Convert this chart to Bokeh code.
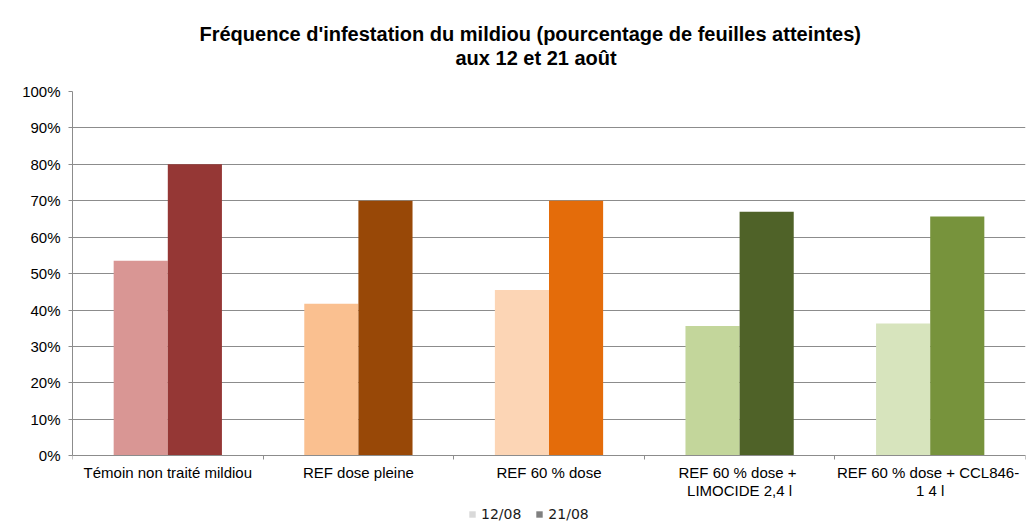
from bokeh.plotting import figure
from bokeh.models import (ColumnDataSource, Range1d, LinearAxis,
                          FixedTicker, PrintfTickFormatter, Title,
                          Legend, LegendItem)
from bokeh.transform import dodge
from bokeh.embed import file_html
from bokeh.resources import INLINE

categories = ["Témoin non traité mildiou", "REF dose pleine", "REF 60 % dose",
              "REF 60 % dose  +\nLIMOCIDE 2,4 l", "REF 60 % dose  + CCL846-\n1 4 l"]
series_names = ["12/08", "21/08"]
values_1208 = [53.5, 41.7, 45.5, 35.6, 36.3]
values_2108 = [80.0, 70.0, 70.0, 67.0, 65.7]
colors_1208 = ["#d99694", "#fac090", "#fcd5b5", "#c3d69b", "#d7e4bd"]
colors_2108 = ["#953735", "#984807", "#e46c0a", "#4f6228", "#77933c"]
legend_colors = ["#d9d9d9", "#808080"]
y_ticks = [0, 10, 20, 30, 40, 50, 60, 70, 80, 90, 100]

FONT = "Liberation Sans"
GRID = "#8c8c8c"

n = len(categories)
centers = [i + 0.5 for i in range(n)]
src = ColumnDataSource(dict(pos=centers, v1=values_1208, v2=values_2108,
                            c1=colors_1208, c2=colors_2108))

p = figure(x_range=Range1d(0, n), y_range=Range1d(-20, 100),
           frame_width=953, frame_height=437,
           output_backend="svg", toolbar_location=None, title=None,
           x_axis_location=None, y_axis_location="left")
p.min_border_left = 72
p.min_border_right = 5
p.min_border_top = 91
p.min_border_bottom = 2
p.outline_line_color = None
p.background_fill_color = "white"
p.border_fill_color = "white"

p.vbar(x=dodge("pos", -0.142), top="v1", width=0.284, source=src,
       fill_color="c1", line_color=None)
p.vbar(x=dodge("pos", 0.142), top="v2", width=0.284, source=src,
       fill_color="c2", line_color=None)

# legend proxies (zero-height bars, invisible in the plot)
proxy = ColumnDataSource(dict(pos=[centers[0]], top=[0], bottom=[0]))
r1 = p.vbar(x="pos", top="top", bottom="bottom", width=0.01, source=proxy,
            fill_color=legend_colors[0], line_color=None)
r2 = p.vbar(x="pos", top="top", bottom="bottom", width=0.01, source=proxy,
            fill_color=legend_colors[1], line_color=None)

# y axis
ya = p.yaxis[0]
ya.ticker = FixedTicker(ticks=y_ticks)
ya.formatter = PrintfTickFormatter(format="%d%%")
ya.bounds = (0, 100)
ya.axis_line_color = GRID
ya.major_tick_line_color = GRID
ya.major_tick_out = 4
ya.major_tick_in = 0
ya.minor_tick_line_color = None
ya.major_label_text_font = FONT
ya.major_label_text_font_size = "15px"
ya.major_label_text_color = "black"
ya.major_label_standoff = 8

p.ygrid.ticker = FixedTicker(ticks=y_ticks)
p.ygrid.grid_line_color = GRID
p.xgrid.grid_line_color = None

# x tick axis (boundaries) at y = 0
tick_axis = LinearAxis(ticker=FixedTicker(ticks=list(range(n + 1))), fixed_location=0,
                       axis_line_color=GRID, major_tick_line_color=GRID, major_tick_out=4,
                       major_tick_in=0, minor_tick_line_color=None,
                       major_label_text_font_size="1px", major_label_text_alpha=0,
                       major_label_standoff=0)
p.add_layout(tick_axis, "below")

cat_axis = LinearAxis(ticker=FixedTicker(ticks=centers), fixed_location=0,
                      major_label_overrides={c: lab for c, lab in zip(centers, categories)},
                      axis_line_color=None, major_tick_line_color=None,
                      major_tick_out=0, major_tick_in=0,
                      minor_tick_line_color=None, major_label_standoff=8,
                      major_label_text_font=FONT, major_label_text_font_size="15px",
                      major_label_text_color="black", major_label_text_line_height=1.1)
p.add_layout(cat_axis, "below")

legend = Legend(items=[LegendItem(label=series_names[0], renderers=[r1]),
                       LegendItem(label=series_names[1], renderers=[r2])],
                orientation="horizontal", location=(396, 6),
                glyph_width=8, glyph_height=8, label_text_font="DejaVu Sans",
                label_text_font_size="14px", label_text_color="#1a1a1a",
                label_standoff=5, spacing=14,
                border_line_color=None, background_fill_alpha=0, padding=0, margin=0,
                label_height=16)
p.add_layout(legend, "center")

spacer = Title(text=" ", text_font_size="1px", standoff=20)
t2 = Title(text="aux 12 et 21 août", align="left", offset=383, text_font=FONT,
           text_font_size="20px", text_font_style="bold", text_color="black", standoff=0)
t1 = Title(text="Fréquence d'infestation du mildiou (pourcentage de feuilles atteintes)",
           align="left", offset=127, text_font=FONT, text_font_size="20px",
           text_font_style="bold", text_color="black", standoff=0)
p.add_layout(spacer, "above")
p.add_layout(t2, "above")
p.add_layout(t1, "above")

open("out.html", "w").write(file_html(p, INLINE))
